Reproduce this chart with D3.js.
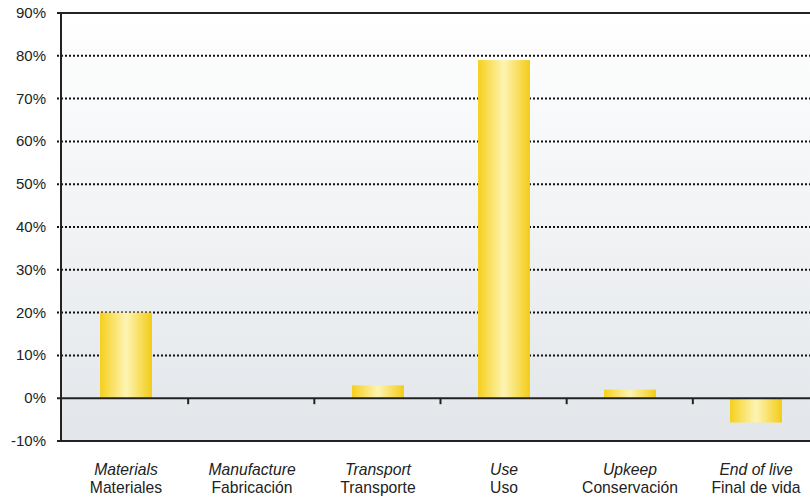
<!DOCTYPE html>
<html>
<head>
<meta charset="utf-8">
<script src="https://cdn.jsdelivr.net/npm/d3@7"></script>
<style>
body{margin:0;background:#fff;}
text{font-family:"Liberation Sans",Arial,sans-serif;fill:#222;}
</style>
</head>
<body>
<div class="chart"></div>
<script>
let catEn=['Materials','Manufacture','Transport','Use','Upkeep','End of live']
let catEs=['Materiales','Fabricación','Transporte','Uso','Conservación','Final de vida']
let values=[20,0,3,79,2,-5.7]
let yTicks=[-10,0,10,20,30,40,50,60,70,80,90]

let w=810,h=499
let padL=61,padT=13,padB=441,padR=819
let svg=d3.select('.chart').append('svg').attr('width',w).attr('height',h)

let yScale=d3.scaleLinear().domain([-10,90]).range([padB,padT])
let xScale=d3.scaleBand().domain(catEn).range([63,padR]).paddingInner(0.588).paddingOuter(0.294)
let band=d3.scaleBand().domain(catEn).range([62,padR])

let defs=svg.append('defs')
let bg=defs.append('linearGradient').attr('id','bg').attr('x1',0).attr('y1',0).attr('x2',0).attr('y2',1)
bg.append('stop').attr('offset','0%').attr('stop-color','#ffffff')
bg.append('stop').attr('offset','100%').attr('stop-color','#e2e6ea')
let gold=defs.append('linearGradient').attr('id','gold').attr('x1',0).attr('y1',0).attr('x2',1).attr('y2',0)
gold.append('stop').attr('offset','0%').attr('stop-color','#f6d01c')
gold.append('stop').attr('offset','50%').attr('stop-color','#fdf4b4')
gold.append('stop').attr('offset','100%').attr('stop-color','#f3cc16')

svg.append('rect').attr('x',padL).attr('y',padT).attr('width',padR-padL).attr('height',padB-padT).attr('fill','url(#bg)')

// dotted grid
svg.selectAll('.grid').data(yTicks.filter(d=>d>0&&d<90)).enter()
  .append('line').attr('class','grid')
  .attr('x1',padL-4).attr('x2',padR).attr('y1',d=>yScale(d)).attr('y2',d=>yScale(d))
  .attr('stroke','#111').attr('stroke-width',2).attr('stroke-dasharray','2,2')

// bars
svg.selectAll('.bar').data(values).enter()
  .append('rect').attr('class','bar')
  .attr('x',(d,i)=>xScale(catEn[i]))
  .attr('y',d=>yScale(Math.max(d,0)))
  .attr('width',xScale.bandwidth())
  .attr('height',d=>Math.abs(yScale(d)-yScale(0)))
  .attr('fill','url(#gold)')

// frame lines
let solid=[90,0,-10]
svg.selectAll('.hl').data(solid).enter()
  .append('line').attr('x1',padL-4).attr('x2',padR).attr('y1',d=>yScale(d)).attr('y2',d=>yScale(d))
  .attr('stroke','#222').attr('stroke-width',2)
svg.append('line').attr('x1',padL).attr('x2',padL).attr('y1',padT).attr('y2',padB+1).attr('stroke','#222').attr('stroke-width',2)

// small ticks between categories on zero line
svg.selectAll('.tk').data(catEn.slice(1)).enter()
  .append('line').attr('x1',d=>band(d)).attr('x2',d=>band(d)).attr('y1',yScale(0)).attr('y2',yScale(0)+6)
  .attr('stroke','#222').attr('stroke-width',2)

// y labels
svg.selectAll('.yl').data(yTicks).enter()
  .append('text').attr('x',46).attr('y',d=>yScale(d)+5).attr('text-anchor','end')
  .attr('font-size',15).text(d=>d+'%')

// category labels
let lab=svg.selectAll('.cl').data(catEn).enter().append('g')
  .attr('transform',d=>'translate('+(xScale(d)+xScale.bandwidth()/2)+',0)')
lab.append('text').attr('y',475).attr('text-anchor','middle').attr('font-size',15.7).attr('font-style','italic').text(d=>d)
lab.append('text').attr('y',493).attr('text-anchor','middle').attr('font-size',15.7).text((d,i)=>catEs[i])
</script>
</body>
</html>
